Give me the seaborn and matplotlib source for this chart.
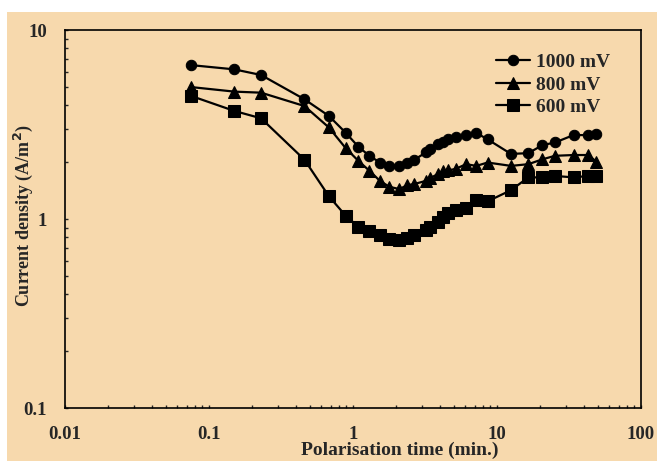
import numpy as np
import matplotlib.pyplot as plt
import seaborn as sns
import pandas as pd
from matplotlib.patches import Rectangle

# polarisation time (min.) shared by the three curves
time_min = [0.075, 0.15, 0.23, 0.46, 0.68, 0.89, 1.09, 1.30, 1.54, 1.79,
            2.10, 2.38, 2.65, 3.2, 3.45, 3.9, 4.25, 4.6, 5.15, 6.1,
            7.2, 8.6, 12.5, 16.5, 20.7, 25.3, 34, 43, 49]

cd_1000 = [6.52, 6.19, 5.78, 4.30, 3.51, 2.86, 2.41, 2.16, 1.99, 1.90,
           1.90, 1.99, 2.05, 2.25, 2.36, 2.49, 2.55, 2.64, 2.72, 2.78,
           2.85, 2.64, 2.21, 2.23, 2.46, 2.54, 2.78, 2.78, 2.81]
cd_800 = [4.99, 4.72, 4.66, 3.96, 3.05, 2.37, 2.03, 1.80, 1.59, 1.48,
          1.44, 1.51, 1.53, 1.59, 1.65, 1.73, 1.79, 1.81, 1.84, 1.95,
          1.91, 1.99, 1.91, 1.95, 2.07, 2.16, 2.18, 2.18, 2.01]
cd_600 = [4.48, 3.73, 3.41, 2.06, 1.32, 1.04, 0.91, 0.86, 0.82, 0.78,
          0.77, 0.79, 0.82, 0.87, 0.91, 0.96, 1.02, 1.08, 1.12, 1.14,
          1.26, 1.24, 1.42, 1.66, 1.66, 1.69, 1.66, 1.69, 1.69]

series_labels = ["1000 mV", "800 mV", "600 mV"]
series_markers = ["o", "^", "s"]
x_ticks = [0.01, 0.1, 1, 10, 100]
x_ticklabels = ["0.01", "0.1", "1", "10", "100"]
y_ticks = [0.1, 1, 10]
y_ticklabels = ["0.1", "1", "10"]

sns.set_style("ticks")
plt.rcParams['font.family'] = ['Liberation Serif', 'DejaVu Serif']
plt.rcParams['font.weight'] = 'bold'

bg = "#F7D9AD"
fig = plt.figure(figsize=(6.57, 4.61), dpi=100, facecolor="white")
fig.patches.append(Rectangle((7 / 657, 0), 1, 1 - 12 / 461, transform=fig.transFigure,
                             facecolor=bg, edgecolor="none", zorder=-10))
ax = fig.add_axes([65 / 657, 1 - 408 / 461, 576 / 657, 378 / 461])
ax.set_facecolor("none")

msizes = [7.5, 8, 8]
for vals, lab, mk, ms in zip([cd_1000, cd_800, cd_600], series_labels, series_markers, msizes):
    sns.lineplot(x=time_min, y=vals, ax=ax, color="black", marker=mk, markersize=ms,
                 markeredgecolor="black", linewidth=1.6, label=lab)

ax.set_xscale("log")
ax.set_yscale("log")
ax.set_xlim(0.01, 100)
ax.set_ylim(0.1, 10)
ax.set_xticks(x_ticks)
ax.set_xticklabels(x_ticklabels)
ax.set_yticks(y_ticks)
ax.set_yticklabels(y_ticklabels)

for s in ax.spines.values():
    s.set_linewidth(1.2)
    s.set_color("black")
ax.tick_params(which="both", direction="in", length=2.5, width=1, top=False, right=False,
               labelsize=13.5, pad=13)

ax.set_xlabel("Polarisation time (min.)", fontsize=14, fontweight="bold")
ax.set_ylabel("Current density (A/m$^\\mathbf{2}$)", fontsize=13, fontweight="bold")
ax.xaxis.set_label_coords((400 - 65) / 576, (408 - 442) / 378)
ax.yaxis.set_label_coords((35 - 65) / 576, (408 - 216) / 378)

ax.legend(loc="center left", bbox_to_anchor=(0.749, 0.855), frameon=False,
          borderpad=0, borderaxespad=0, handlelength=1.75, handletextpad=0.3,
          labelspacing=0.25, prop={"size": 14, "weight": "bold"})

fig.savefig("out.png", dpi=100)
